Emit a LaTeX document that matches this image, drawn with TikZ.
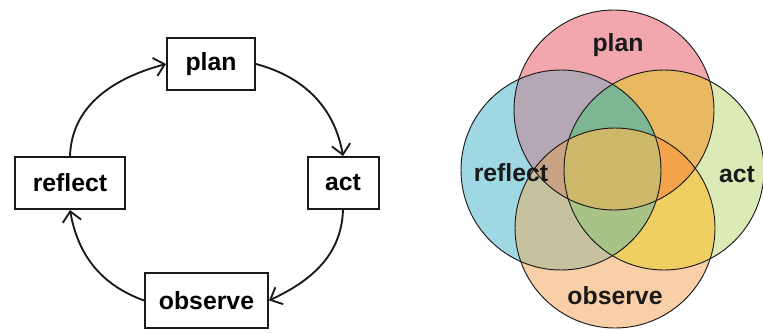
\documentclass[tikz,border=0pt]{standalone}
\usepackage{fontspec}
\usetikzlibrary{arrows.meta}
\newfontfamily\cyfont{Liberation Sans}
\definecolor{cyInk}{HTML}{1A1A1A}
\definecolor{cyPlan}{HTML}{F2A7AE}
\definecolor{cyReflect}{HTML}{9FD8E2}
\definecolor{cyAct}{HTML}{DCEBB5}
\definecolor{cyObserve}{HTML}{F8CFA6}
\definecolor{cyPR}{HTML}{B4A8B4}
\definecolor{cyPA}{HTML}{E9B962}
\definecolor{cyRO}{HTML}{C6C29E}
\definecolor{cyAO}{HTML}{EFCF62}
\definecolor{cyRA}{HTML}{7DB693}
\definecolor{cyPO}{HTML}{CDB86A}
\definecolor{cyPRA}{HTML}{7DB693}
\definecolor{cyPRO}{HTML}{C9A384}
\definecolor{cyPAO}{HTML}{F3A34A}
\definecolor{cyRAO}{HTML}{A9C285}
\definecolor{cyAll}{HTML}{CDB86A}
\newcommand{\cyR}{100}
\newcommand{\cycirc}[1]{(#1) circle[radius=\cyR]}
\tikzset{
  cybox/.style={
    draw=cyInk, fill=white, line width=1.5pt, inner sep=0pt,
    minimum height=39pt, font=\cyfont\bfseries\fontsize{18.6}{22}\selectfont,
  },
  cylabel/.style={
    inner sep=0pt, text=cyInk, font=\cyfont\bfseries\fontsize{18.6}{22}\selectfont,
  },
  cyarrow/.style={
    -{Straight Barb[length=7.5pt, width=14pt]}, draw=cyInk, line width=1.4pt,
  },
  cyring/.style={draw=cyInk, line width=0.7pt},
}

\begin{document}
\begin{tikzpicture}[x=0.75pt, y=-0.75pt]
\useasboundingbox (0,0) rectangle (763,332);

% Cycle -------------------------------------------------------------------
\node[cybox, minimum width=66pt] (plan) at (211,64) {plan};
\node[cybox, minimum width=53.25pt] (act) at (343,183) {act};
\node[cybox, minimum width=92.25pt, minimum height=41.25pt] (observe) at (206.5,300.5) {observe};
\node[cybox, minimum width=82.5pt] (reflect) at (70,183) {reflect};

\foreach \a/\b/\o/\i in {plan.east/act.north/-15/100,
                         act.south/observe.east/-92/25,
                         observe.west/reflect.south/160/-80,
                         reflect.north/plan.west/88/195}{%
  \draw[cyarrow] (\a) to[out=\o, in=\i] (\b);
}

% Overlapping circles -----------------------------------------------------
\coordinate (cP) at (614,110);
\coordinate (cR) at (561,170);
\coordinate (cA) at (664,170);
\coordinate (cO) at (615,228);

\foreach \c/\col in {cP/cyPlan, cR/cyReflect, cA/cyAct, cO/cyObserve}
  \fill[\col] \cycirc{\c};

% two at a time
\foreach \a/\b/\col in {cP/cR/cyPR, cP/cA/cyPA, cR/cO/cyRO, cA/cO/cyAO,
                        cR/cA/cyRA, cP/cO/cyPO}{%
  \begin{scope}
    \clip \cycirc{\a};
    \fill[\col] \cycirc{\b};
  \end{scope}
}

% three at a time
\foreach \a/\b/\c/\col in {cP/cR/cA/cyPRA, cP/cR/cO/cyPRO,
                           cP/cA/cO/cyPAO, cR/cA/cO/cyRAO}{%
  \begin{scope}
    \clip \cycirc{\a};
    \clip \cycirc{\b};
    \fill[\col] \cycirc{\c};
  \end{scope}
}

% all four
\begin{scope}
  \clip \cycirc{cP};
  \clip \cycirc{cR};
  \clip \cycirc{cA};
  \fill[cyAll] \cycirc{cO};
\end{scope}

\foreach \c in {cP, cR, cA, cO}
  \draw[cyring] \cycirc{\c};

\node[cylabel] (lplan) at (618,45) {plan};
\node[cylabel] (lreflect) at (511,173) {reflect};
\node[cylabel] (lact) at (737,175) {act};
\node[cylabel] (lobserve) at (615,296) {observe};

\end{tikzpicture}
\end{document}
